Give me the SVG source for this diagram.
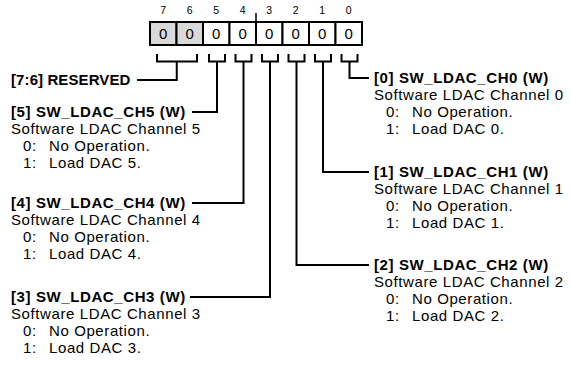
<svg xmlns="http://www.w3.org/2000/svg" width="571" height="371" viewBox="0 0 571 371">
<style>
.hdr{font-family:"Liberation Sans",Arial,sans-serif;font-weight:bold;font-size:15px;letter-spacing:0.6px;fill:#000}
.txt{font-family:"Liberation Sans",Arial,sans-serif;font-size:15px;letter-spacing:0.6px;fill:#000}
.bitn{font-family:"Liberation Sans",Arial,sans-serif;font-size:10.5px;fill:#000;text-anchor:middle}
.val{font-family:"Liberation Sans",Arial,sans-serif;font-size:15px;fill:#000;text-anchor:middle}
.cell{stroke:#000;stroke-width:2;fill:#fff}
.res{fill:#d9d9d9}
.conn{stroke:#000;stroke-width:2;fill:none}
</style>
<rect width="571" height="371" fill="#fff"/>
<g id="register">
<rect class="cell res" x="150" y="22" width="26.5" height="23"/>
<rect class="cell res" x="176.5" y="22" width="26.5" height="23"/>
<rect class="cell" x="203" y="22" width="26.5" height="23"/>
<rect class="cell" x="229.5" y="22" width="26.5" height="23"/>
<rect class="cell" x="256" y="22" width="26.5" height="23"/>
<rect class="cell" x="282.5" y="22" width="26.5" height="23"/>
<rect class="cell" x="309" y="22" width="26.5" height="23"/>
<rect class="cell" x="335.5" y="22" width="26.5" height="23"/>
<line x1="256" y1="13" x2="256" y2="22" stroke="#000" stroke-width="1.5"/>
<text class="bitn" x="163.25" y="14">7</text>
<text class="bitn" x="189.75" y="14">6</text>
<text class="bitn" x="216.25" y="14">5</text>
<text class="bitn" x="242.75" y="14">4</text>
<text class="bitn" x="269.25" y="14">3</text>
<text class="bitn" x="295.75" y="14">2</text>
<text class="bitn" x="322.25" y="14">1</text>
<text class="bitn" x="348.75" y="14">0</text>
<text class="val" x="163.25" y="39">0</text>
<text class="val" x="189.75" y="39">0</text>
<text class="val" x="216.25" y="39">0</text>
<text class="val" x="242.75" y="39">0</text>
<text class="val" x="269.25" y="39">0</text>
<text class="val" x="295.75" y="39">0</text>
<text class="val" x="322.25" y="39">0</text>
<text class="val" x="348.75" y="39">0</text>
</g>
<g id="connectors">
<path class="conn" d="M157,54V61.5H197V54M176.75,61.5V80H137"/>
<path class="conn" d="M209,54V61.5H225V54M217,61.5V112H192"/>
<path class="conn" d="M235.5,54V61.5H251.5V54M243.5,61.5V203H192"/>
<path class="conn" d="M262,54V61.5H278V54M270,61.5V297H190"/>
<path class="conn" d="M288.5,54V61.5H304.5V54M296.5,61.5V265H369"/>
<path class="conn" d="M315,54V61.5H331V54M323,61.5V172H369"/>
<path class="conn" d="M341.5,54V61.5H357.5V54M349.5,61.5V78H369"/>
</g>
<g id="f76">
<text class="hdr" x="11" y="85" style="letter-spacing:0.1px">[7:6] RESERVED</text>
</g>
<g id="f5">
<text class="hdr" x="11" y="117">[5] SW_LDAC_CH5 (W)</text>
<text class="txt" x="11" y="134">Software LDAC Channel 5</text>
<text class="txt" y="151"><tspan x="23">0:</tspan><tspan x="49">No Operation.</tspan></text>
<text class="txt" y="168"><tspan x="23">1:</tspan><tspan x="49">Load DAC 5.</tspan></text>
</g>
<g id="f4">
<text class="hdr" x="11" y="208">[4] SW_LDAC_CH4 (W)</text>
<text class="txt" x="11" y="225">Software LDAC Channel 4</text>
<text class="txt" y="242"><tspan x="23">0:</tspan><tspan x="49">No Operation.</tspan></text>
<text class="txt" y="259"><tspan x="23">1:</tspan><tspan x="49">Load DAC 4.</tspan></text>
</g>
<g id="f3">
<text class="hdr" x="11" y="302">[3] SW_LDAC_CH3 (W)</text>
<text class="txt" x="11" y="319">Software LDAC Channel 3</text>
<text class="txt" y="336"><tspan x="23">0:</tspan><tspan x="49">No Operation.</tspan></text>
<text class="txt" y="353"><tspan x="23">1:</tspan><tspan x="49">Load DAC 3.</tspan></text>
</g>
<g id="f0">
<text class="hdr" x="374" y="83">[0] SW_LDAC_CH0 (W)</text>
<text class="txt" x="374" y="100">Software LDAC Channel 0</text>
<text class="txt" y="117"><tspan x="386">0:</tspan><tspan x="412">No Operation.</tspan></text>
<text class="txt" y="134"><tspan x="386">1:</tspan><tspan x="412">Load DAC 0.</tspan></text>
</g>
<g id="f1">
<text class="hdr" x="374" y="177">[1] SW_LDAC_CH1 (W)</text>
<text class="txt" x="374" y="194">Software LDAC Channel 1</text>
<text class="txt" y="211"><tspan x="386">0:</tspan><tspan x="412">No Operation.</tspan></text>
<text class="txt" y="228"><tspan x="386">1:</tspan><tspan x="412">Load DAC 1.</tspan></text>
</g>
<g id="f2">
<text class="hdr" x="374" y="270">[2] SW_LDAC_CH2 (W)</text>
<text class="txt" x="374" y="287">Software LDAC Channel 2</text>
<text class="txt" y="304"><tspan x="386">0:</tspan><tspan x="412">No Operation.</tspan></text>
<text class="txt" y="321"><tspan x="386">1:</tspan><tspan x="412">Load DAC 2.</tspan></text>
</g>
</svg>
